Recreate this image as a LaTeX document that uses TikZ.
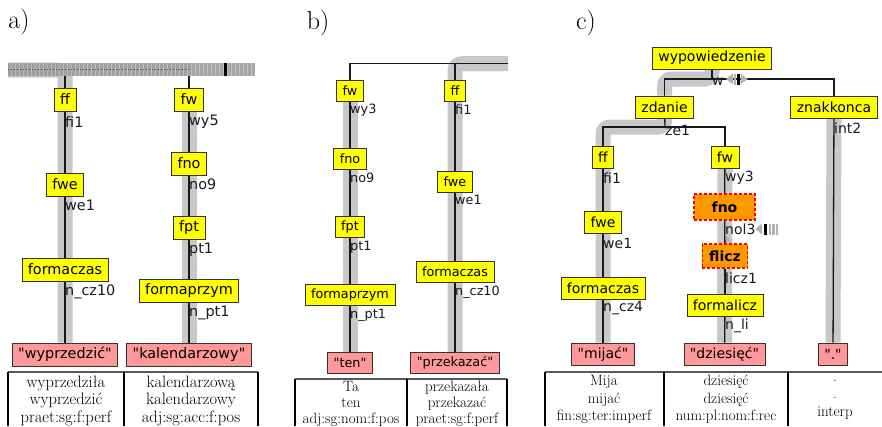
\documentclass[tikz,border=0pt]{standalone}
\usepackage{fontspec}
\newfontfamily\tfam{DejaVu Sans}
\usetikzlibrary{backgrounds}
\definecolor{ybox}{RGB}{255,255,0}
\definecolor{rbox}{RGB}{255,153,153}
\definecolor{obox}{RGB}{255,153,0}
\definecolor{hlc}{RGB}{200,200,200}
\definecolor{lblc}{RGB}{25,25,35}
\newcommand\treeA{\tfam\fontsize{14.4}{16}\selectfont}
\newcommand\treeB{\tfam\fontsize{12.8}{14}\selectfont}
\newcommand\treeC{\tfam\fontsize{14}{16}\selectfont}
\tikzset{
 box/.style={draw=black!80, line width=0.8pt, inner xsep=6pt, inner ysep=0pt},
 yl/.style={box, fill=ybox},
 rd/.style={box, fill=rbox},
 og/.style={box, fill=obox, draw=red, dash pattern=on 3pt off 2pt, line width=1.2pt, font=\treeC\bfseries},
 lbl/.style={anchor=west, inner sep=0pt, text=lblc, minimum height=0pt},
 ln/.style={draw=black!90, line width=1.3pt},
 hl/.style={draw=hlc, line width=15pt, rounded corners=7pt},
 tabtop/.style={draw=black!65, line width=1.2pt},
 tabv/.style={draw=black, line width=1.8pt},
 plabel/.style={font=\fontsize{26}{28}\selectfont, inner sep=0pt},
 tcell/.style={align=center, inner sep=0pt},
 mk/.style={fill=gray!60},
}
\begin{document}
\begin{tikzpicture}[x=1pt,y=-1pt]
\useasboundingbox (0,0) rectangle (882,426);
\clip (0,0) rectangle (882,426);

% panel labels
\node[plabel] (la) at (19,22) {a)};
\node[plabel] (lb) at (318,23) {b)};
\node[plabel] (lc) at (586,23) {c)};

% ---------------- panel a ----------------
\begin{scope}[font=\treeA, minimum height=23pt]
\node[yl] (aff) at (65,99.5) {ff};
\node[lbl] (afi) at (65,122) {fi1};
\node[yl] (afwe) at (65,184.5) {fwe};
\node[lbl] (awe) at (65,205) {we1};
\node[yl] (afc) at (65,269.5) {formaczas};
\node[lbl] (ancz) at (65,292) {n\_cz10};
\node[rd] (ar1) at (65,354.5) {"wyprzedzić"};
\node[yl] (afw) at (189,99.5) {fw};
\node[lbl] (awy) at (189,122) {wy5};
\node[yl] (afno) at (189,163.5) {fno};
\node[lbl] (ano) at (189,184) {no9};
\node[yl] (afpt) at (189,227.5) {fpt};
\node[lbl] (apt) at (189,250) {pt1};
\node[yl] (afp) at (189,290.5) {formaprzym};
\node[lbl] (anpt) at (189,313) {n\_pt1};
\node[rd] (ar2) at (189,354.5) {"kalendarzowy"};
\end{scope}
\coordinate (abarL) at (8,70);
\coordinate (abar1) at (65,76);
\coordinate (abar2) at (189,76);
% striped bar
\fill[gray!55, opacity=0.9] (8,63) rectangle (255,76);
\foreach \x in {8,12,...,188} \fill[gray!80, opacity=0.8] (\x,63) rectangle ++(3,13);
\foreach \x in {192,196,...,252} \fill[gray!70] (\x,63) rectangle ++(3,13);
\fill[black] (224,63) rectangle (227,76);
\draw[black!75, dash pattern=on 1pt off 2pt, line width=1pt] (8,69.5) -- (190,69.5);

% ---------------- panel b ----------------
\begin{scope}[font=\treeB, minimum height=21pt]
\node[yl] (bfw) at (350,90.5) {fw};
\node[lbl] (bwy) at (350,110) {wy3};
\node[yl] (bfno) at (350,159) {fno};
\node[lbl] (bno) at (350,178) {no9};
\node[yl] (bfpt) at (350,226.5) {fpt};
\node[lbl] (bpt) at (350,247) {pt1};
\node[yl] (bfp) at (350,295) {formaprzym};
\node[lbl] (bnpt) at (350,315) {n\_pt1};
\node[rd] (br1) at (350,363) {"ten"};
\node[yl] (bff) at (455,90.5) {ff};
\node[lbl] (bfi) at (455,110) {fi1};
\node[yl] (bfwe) at (455,181.5) {fwe};
\node[lbl] (bwe) at (455,200) {we1};
\node[yl] (bfc) at (455,272) {formaczas};
\node[lbl] (bncz) at (455,292) {n\_cz10};
\node[rd] (br2) at (455,363) {"przekazać"};
\end{scope}
\coordinate (bL) at (350,63.5);
\coordinate (bR) at (455,63.5);
\coordinate (bE) at (508,63.5);

% ---------------- panel c ----------------
\begin{scope}[font=\treeC, minimum height=22pt]
\node[yl] (cwyp) at (712,58) {wypowiedzenie};
\node[yl] (czd) at (664.5,107) {zdanie};
\node[yl] (czk) at (834,107) {znakkonca};
\node[lbl] (cwl) at (712,82) {w};
\node[lbl] (czel) at (665,130) {ze1};
\node[lbl] (cint) at (834,128) {int2};
\node[yl] (cff) at (603,157) {ff};
\node[lbl] (cfi) at (603,178) {fi1};
\node[yl] (cfwe) at (603,222.5) {fwe};
\node[lbl] (cwe) at (603,243) {we1};
\node[yl] (cfc) at (603,288) {formaczas};
\node[lbl] (cncz) at (603,308) {n\_cz4};
\node[rd] (cr1) at (603,354) {"mijać"};
\node[yl] (cfw) at (725,157) {fw};
\node[lbl] (cwy) at (725,178) {wy3};
\node[og, minimum width=61pt, minimum height=26pt] (cfno) at (724.5,207) {fno};
\node[lbl] (cnol) at (725,229) {nol3};
\node[og, minimum height=24pt, inner xsep=7pt] (cflicz) at (725,256) {flicz};
\node[lbl] (clicz) at (725,278) {licz1};
\node[yl] (cfl) at (725,305) {formalicz};
\node[lbl] (cnli) at (725,326) {n\_li};
\node[rd] (cr2) at (724.5,354) {"dziesięć"};
\node[rd, minimum width=28pt] (cr3) at (833,354) {"."};
\end{scope}
\coordinate (cw) at (712,79);
\coordinate (cz) at (665,127);

% ---------------- background: highlights and connectors ----------------
\begin{scope}[on background layer]
% highlights
\draw[hl] (abarL) -- (65,70) -- (ar1.north);
\draw[hl] (afw.south) -- (ar2.north);
\draw[hl] (bfw.south) -- (br1.north);
\draw[hl] (bE) -- (bR) -- (br2.north);
\draw[hl] (cwyp.south) -- (cw) -| (czd.north);
\draw[hl] (czd.south) -- (cz) -| (cr1.north);
\draw[hl] (cfw.south) -- (cr2.north);
\draw[hl] (czk.south) -- (cr3.north);
% connectors panel a
\draw[ln] (abar1) -- (aff);
\draw[ln] (aff) -- (afwe);
\draw[ln] (afwe) -- (afc);
\draw[ln] (afc) -- (ar1);
\draw[ln] (abar2) -- (afw);
\draw[ln] (afw) -- (afno);
\draw[ln] (afno) -- (afpt);
\draw[ln] (afpt) -- (afp);
\draw[ln] (afp) -- (ar2);
% connectors panel b
\draw[ln] (bE) -- (bL) -- (bfw);
\draw[ln] (bR) -- (bff);
\draw[ln] (bfw) -- (bfno);
\draw[ln] (bfno) -- (bfpt);
\draw[ln] (bfpt) -- (bfp);
\draw[ln] (bfp) -- (br1);
\draw[ln] (bff) -- (bfwe);
\draw[ln] (bfwe) -- (bfc);
\draw[ln] (bfc) -- (br2);
% connectors panel c
\draw[ln] (cwyp) -- (cw);
\draw[ln] (czd) |- (cw) -| (czk);
\draw[ln] (czd) -- (cz);
\draw[ln] (cff) |- (cz) -| (cfw);
\draw[ln] (cff) -- (cfwe);
\draw[ln] (cfwe) -- (cfc);
\draw[ln] (cfc) -- (cr1);
\draw[ln] (cfw) -- (cfno);
\draw[ln] (cfno) -- (cflicz);
\draw[ln] (cflicz) -- (cfl);
\draw[ln] (cfl) -- (cr2);
\draw[ln] (czk) -- (cr3);
\end{scope}

% markers in panel c
\fill[mk] (733,73.5) -- (726,79) -- (733,84.5) -- cycle;
\fill[mk] (733.5,73.5) rectangle (736,84.5);
\fill[black] (736.8,73.5) rectangle (739.8,84.5);
\fill[mk] (740.5,73.5) -- (747.5,79) -- (740.5,84.5) -- cycle;
\fill[mk] (762,223.5) -- (755.5,229) -- (762,234.5) -- cycle;
\fill[black] (764,223.5) rectangle (767,234.5);
\foreach \x in {768.5,772,775.5} \fill[mk] (\x,223.5) rectangle ++(2.5,11);
\fill[mk] (726,236) -- (732,241) -- (726,243) -- cycle;

% ---------------- tables ----------------
\draw[tabtop] (8,372) -- (258,372);
\draw[tabv] (8,372) -- (8,426);
\draw[tabv] (124,372) -- (124,426);
\draw[tabv] (258,372) -- (258,426);
\begin{scope}[font=\fontsize{16.5}{17.5}\selectfont]
\node[tcell] (ta1) at (66,400.5) {wyprzedziła\\wyprzedzić\\praet:sg:f:perf};
\node[tcell] (ta2) at (191,400.5) {kalendarzową\\kalendarzowy\\adj:sg:acc:f:pos};
\end{scope}

\draw[tabtop] (295,379) -- (507,379);
\draw[tabv] (295,379) -- (295,426);
\draw[tabv] (407,379) -- (407,426);
\draw[tabv] (507,379) -- (507,426);
\begin{scope}[font=\fontsize{15}{16}\selectfont]
\node[tcell] (tb1) at (351,404) {Ta\\ten\\adj:sg:nom:f:pos};
\node[tcell] (tb2) at (457,404) {przekazała\\przekazać\\praet:sg:f:perf};
\end{scope}

\draw[tabtop] (545,372) -- (882,372);
\draw[tabv] (545,372) -- (545,426);
\draw[tabv] (664,372) -- (664,426);
\draw[tabv] (788,372) -- (788,426);
\begin{scope}[font=\fontsize{15}{17.5}\selectfont]
\node[tcell] (tc1) at (604,399.5) {Mija\\mijać\\fin:sg:ter:imperf};
\node[tcell] (tc2) at (726,399.5) {dziesięć\\dziesięć\\num:pl:nom:f:rec};
\node[tcell] (tc3) at (835,399.5) {.\\.\\interp};
\end{scope}
\end{tikzpicture}
\end{document}
